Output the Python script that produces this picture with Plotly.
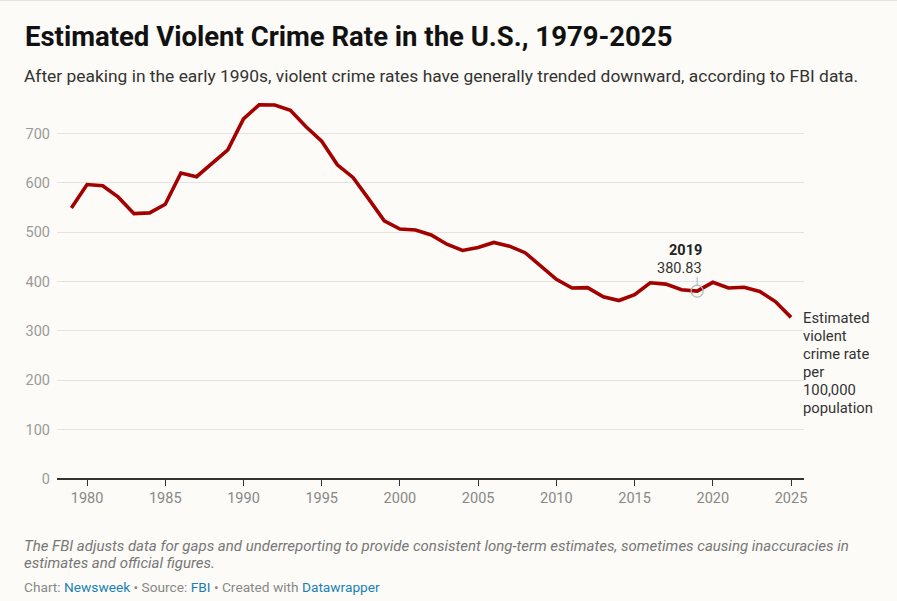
import plotly.graph_objects as go

# Datos (tasa estimada de crimen violento por 100,000 habitantes)
years = list(range(1979, 2026))
rates = [548.9, 596.6, 594.3, 571.1, 537.7, 539.2, 556.6, 620.1, 612.5, 640.6,
         666.9, 729.6, 758.2, 757.7, 747.1, 713.6, 684.5, 636.6, 611.0, 567.6,
         523.0, 506.5, 504.5, 494.4, 475.8, 463.2, 469.0, 479.3, 471.8, 458.6,
         431.9, 404.5, 387.1, 387.8, 369.1, 361.6, 373.7, 397.5, 394.9, 383.4,
         380.83, 398.5, 387.0, 388.5, 380.0, 359.5, 327.5]

y_ticks = [0, 100, 200, 300, 400, 500, 600, 700]
x_ticks = [1980, 1985, 1990, 1995, 2000, 2005, 2010, 2015, 2020, 2025]

hl_year = 2019
hl_value = 380.83

titulo = "Estimated Violent Crime Rate in the U.S., 1979-2025"
subtitulo = ("After peaking in the early 1990s, violent crime rates have generally "
             "trended downward, according to FBI data.")
nota = ["The FBI adjusts data for gaps and underreporting to provide consistent long-term "
        "estimates, sometimes causing inaccuracies in",
        "estimates and official figures."]
etiqueta = ["Estimated", "violent", "crime rate", "per", "100,000", "population"]

BG = "#fcfbf7"
FONT = "Roboto"

# area del grafico en pixeles
W, H = 897, 601
L, R, T, B = 57, 804, 99, 479


def px_x(x):
    return (x - L) / (R - L)


def px_y(y):
    return (B - y) / (B - T)


fig = go.Figure()

fig.add_trace(go.Scatter(x=years, y=rates, mode="lines",
                         line=dict(color="#a30000", width=3.6),
                         hoverinfo="skip", showlegend=False))

fig.add_trace(go.Scatter(x=[hl_year], y=[hl_value], mode="markers",
                         marker=dict(size=12, color="rgba(0,0,0,0)",
                                     line=dict(color="#b5b5b5", width=1.2)),
                         hoverinfo="skip", showlegend=False))

fig.update_layout(
    width=W, height=H,
    margin=dict(l=L, r=W - R, t=T, b=H - B),
    paper_bgcolor=BG, plot_bgcolor=BG,
    font=dict(family=FONT, color="#333333"),
    title=dict(text="<b>" + titulo + "</b>", x=25 / W, xref="container",
               xanchor="left", y=1 - 36 / H, yanchor="middle",
               font=dict(size=27.5, color="#111111", family=FONT)),
)

fig.update_xaxes(range=[1978.08, 2025.83], tickvals=x_ticks,
                 showgrid=False, zeroline=False, showline=False,
                 ticks="outside", ticklen=6, tickcolor="#333333", tickwidth=1,
                 tickfont=dict(size=14.5, color="#888888"))

fig.update_yaxes(range=[0, 770], tickvals=y_ticks,
                 showgrid=True, gridcolor="#e3e3e3", gridwidth=1,
                 zeroline=True, zerolinecolor="#333333", zerolinewidth=1.5,
                 showline=False, ticks="", ticklabelstandoff=6,
                 tickfont=dict(size=14.5, color="#9a9a9a"))

anots = [
    dict(text=subtitulo, x=px_x(22), y=px_y(76), font=dict(size=17.4, color="#333333")),
    dict(text=("Chart: <span style='color:#1a80b6'>Newsweek</span> \u2022 Source: "
               "<span style='color:#1a80b6'>FBI</span> \u2022 Created with "
               "<span style='color:#1a80b6'>Datawrapper</span>"),
         x=px_x(22), y=px_y(587), font=dict(size=13.7, color="#888888")),
]
for i, linea in enumerate(nota):
    anots.append(dict(text="<i>" + linea + "</i>", x=px_x(22), y=px_y(546 + 17 * i),
                      font=dict(size=15, color="#777777")))
for i, linea in enumerate(etiqueta):
    anots.append(dict(text=linea, x=px_x(801), y=px_y(318 + 18 * i),
                      font=dict(size=14.8, color="#333333")))

for a in anots:
    fig.add_annotation(xref="paper", yref="paper", xanchor="left", yanchor="middle",
                       showarrow=False, **a)

fig.add_annotation(x=hl_year, y=hl_value, xref="x", yref="y",
                   text="<b>2019</b>", showarrow=False, xanchor="right",
                   yshift=41, xshift=7, font=dict(size=14.5, color="#222222"))
fig.add_annotation(x=hl_year, y=hl_value, xref="x", yref="y",
                   text="380.83", showarrow=False, xanchor="right",
                   yshift=23, xshift=7, font=dict(size=14.5, color="#333333"))
fig.add_shape(type="line", xref="x", yref="y", x0=hl_year, x1=hl_year,
              y0=hl_value + 12, y1=hl_value + 28,
              line=dict(color="#b5b5b5", width=1))

# linea fina arriba
fig.add_shape(type="line", xref="paper", yref="paper", x0=px_x(0), x1=px_x(W),
              y0=px_y(0.5), y1=px_y(0.5), line=dict(color="#e2e2e2", width=1))

fig.write_html("out.html", config={"displayModeBar": False},
               post_script="document.body.style.margin='0px';")
